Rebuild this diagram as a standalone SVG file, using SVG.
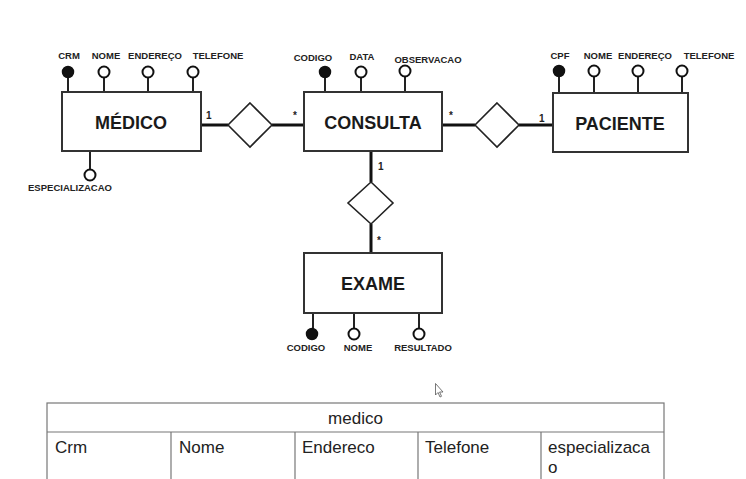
<svg xmlns="http://www.w3.org/2000/svg" width="746" height="479" viewBox="0 0 746 479">
<style>
.ent{fill:#fff;stroke:#333;stroke-width:2}
.dia{fill:#fff;stroke:#222;stroke-width:1.6}
.title{font-family:"Liberation Sans",Arial,sans-serif;font-weight:bold;font-size:18px;fill:#1a1a1a;text-anchor:middle}
.att{font-family:"Liberation Sans",Arial,sans-serif;font-weight:bold;font-size:9.5px;fill:#222;text-anchor:middle}
.card{font-family:"Liberation Sans",Arial,sans-serif;font-weight:bold;font-size:10px;fill:#222}
.stem{stroke:#222;stroke-width:2}
.conn{stroke:#111;stroke-width:3;fill:none}
.key{fill:#111;stroke:#111;stroke-width:1.5}
.opt{fill:#fff;stroke:#111;stroke-width:2}
.tb{fill:none;stroke:#777;stroke-width:1.2}
.tt{font-family:"Liberation Sans",Arial,sans-serif;font-size:17px;fill:#222}
</style>
<rect width="746" height="479" fill="#fff"/>
<g id="connectors">
<line class="conn" x1="201" y1="125" x2="228" y2="125"/>
<line class="conn" x1="272" y1="125" x2="304" y2="125"/>
<line class="conn" x1="442" y1="125" x2="475" y2="125"/>
<line class="conn" x1="519" y1="125" x2="553" y2="125"/>
<line class="conn" x1="371" y1="151" x2="371" y2="182"/>
<line class="conn" x1="371" y1="224" x2="371" y2="253"/>
<text class="card" x="206" y="119">1</text>
<text class="card" x="293" y="119">*</text>
<text class="card" x="449" y="119">*</text>
<text class="card" x="539" y="122">1</text>
<text class="card" x="378" y="170">1</text>
<text class="card" x="377" y="244">*</text>
</g>
<g id="rel-medico-consulta"><polygon class="dia" points="250,103 272,125 250,147 228,125"/></g>
<g id="rel-consulta-paciente"><polygon class="dia" points="497,103 519,125 497,147 475,125"/></g>
<g id="rel-consulta-exame"><polygon class="dia" points="371,182 393,203 371,224 348,203"/></g>
<g id="medico">
<line class="stem" x1="68" y1="77" x2="68" y2="92"/>
<line class="stem" x1="104" y1="78" x2="104" y2="92"/>
<line class="stem" x1="148" y1="78" x2="148" y2="92"/>
<line class="stem" x1="193" y1="78" x2="193" y2="92"/>
<line class="stem" x1="90" y1="151" x2="90" y2="170"/>
<rect class="ent" x="62" y="92" width="139" height="59"/>
<text class="title" x="131" y="129">MÉDICO</text>
<circle class="key" cx="68" cy="72" r="5.5"/>
<circle class="opt" cx="104" cy="72" r="5.5"/>
<circle class="opt" cx="148" cy="72" r="5.5"/>
<circle class="opt" cx="193" cy="72" r="5.5"/>
<circle class="opt" cx="90" cy="175" r="5.5"/>
<text class="att" x="69" y="59">CRM</text>
<text class="att" x="106" y="59">NOME</text>
<text class="att" x="155" y="59">ENDEREÇO</text>
<text class="att" x="218" y="59">TELEFONE</text>
<text class="att" x="70" y="191">ESPECIALIZACAO</text>
</g>
<g id="consulta">
<line class="stem" x1="325" y1="77" x2="325" y2="92"/>
<line class="stem" x1="361" y1="78" x2="361" y2="92"/>
<line class="stem" x1="405" y1="77" x2="405" y2="92"/>
<rect class="ent" x="304" y="92" width="138" height="59"/>
<text class="title" x="373" y="129">CONSULTA</text>
<circle class="key" cx="325" cy="72" r="5.5"/>
<circle class="opt" cx="361" cy="72" r="5.5"/>
<circle class="opt" cx="405" cy="71" r="5.5"/>
<text class="att" x="313" y="61">CODIGO</text>
<text class="att" x="362" y="60">DATA</text>
<text class="att" x="428" y="63">OBSERVACAO</text>
</g>
<g id="paciente">
<line class="stem" x1="559" y1="76" x2="559" y2="93"/>
<line class="stem" x1="594" y1="77" x2="594" y2="93"/>
<line class="stem" x1="638" y1="77" x2="638" y2="93"/>
<line class="stem" x1="682" y1="77" x2="682" y2="93"/>
<rect class="ent" x="553" y="93" width="135" height="59"/>
<text class="title" x="620" y="130">PACIENTE</text>
<circle class="key" cx="559" cy="71" r="5.5"/>
<circle class="opt" cx="594" cy="71" r="5.5"/>
<circle class="opt" cx="638" cy="71" r="5.5"/>
<circle class="opt" cx="682" cy="71" r="5.5"/>
<text class="att" x="560" y="59">CPF</text>
<text class="att" x="598" y="59">NOME</text>
<text class="att" x="645" y="59">ENDEREÇO</text>
<text class="att" x="709" y="59">TELEFONE</text>
</g>
<g id="exame">
<line class="stem" x1="313" y1="313" x2="313" y2="329"/>
<line class="stem" x1="354" y1="313" x2="354" y2="329"/>
<line class="stem" x1="419" y1="313" x2="419" y2="329"/>
<rect class="ent" x="304" y="253" width="138" height="60"/>
<text class="title" x="373" y="290">EXAME</text>
<circle class="key" cx="312" cy="334" r="5.5"/>
<circle class="opt" cx="354" cy="334" r="5.5"/>
<circle class="opt" cx="419" cy="334" r="5.5"/>
<text class="att" x="306" y="351">CODIGO</text>
<text class="att" x="358" y="351">NOME</text>
<text class="att" x="423" y="351">RESULTADO</text>
</g>
<g id="cursor">
<path d="M435.5,383.5 L435.5,395 L438,392.5 L440,397 L441.5,396.3 L439.6,392 L443,392 Z" fill="#fff" stroke="#555" stroke-width="0.8"/>
</g>
<g id="table-medico">
<rect class="tb" x="47" y="403" width="617" height="80"/>
<line class="tb" x1="47" y1="432" x2="664" y2="432"/>
<line class="tb" x1="171" y1="432" x2="171" y2="479"/>
<line class="tb" x1="295" y1="432" x2="295" y2="479"/>
<line class="tb" x1="418" y1="432" x2="418" y2="479"/>
<line class="tb" x1="541" y1="432" x2="541" y2="479"/>
<text class="tt" x="355.5" y="424" text-anchor="middle">medico</text>
<text class="tt" x="55" y="453">Crm</text>
<text class="tt" x="179" y="453">Nome</text>
<text class="tt" x="302" y="453">Endereco</text>
<text class="tt" x="425" y="453">Telefone</text>
<text class="tt" x="548" y="453">especializaca</text>
<text class="tt" x="548" y="473">o</text>
</g>
</svg>
